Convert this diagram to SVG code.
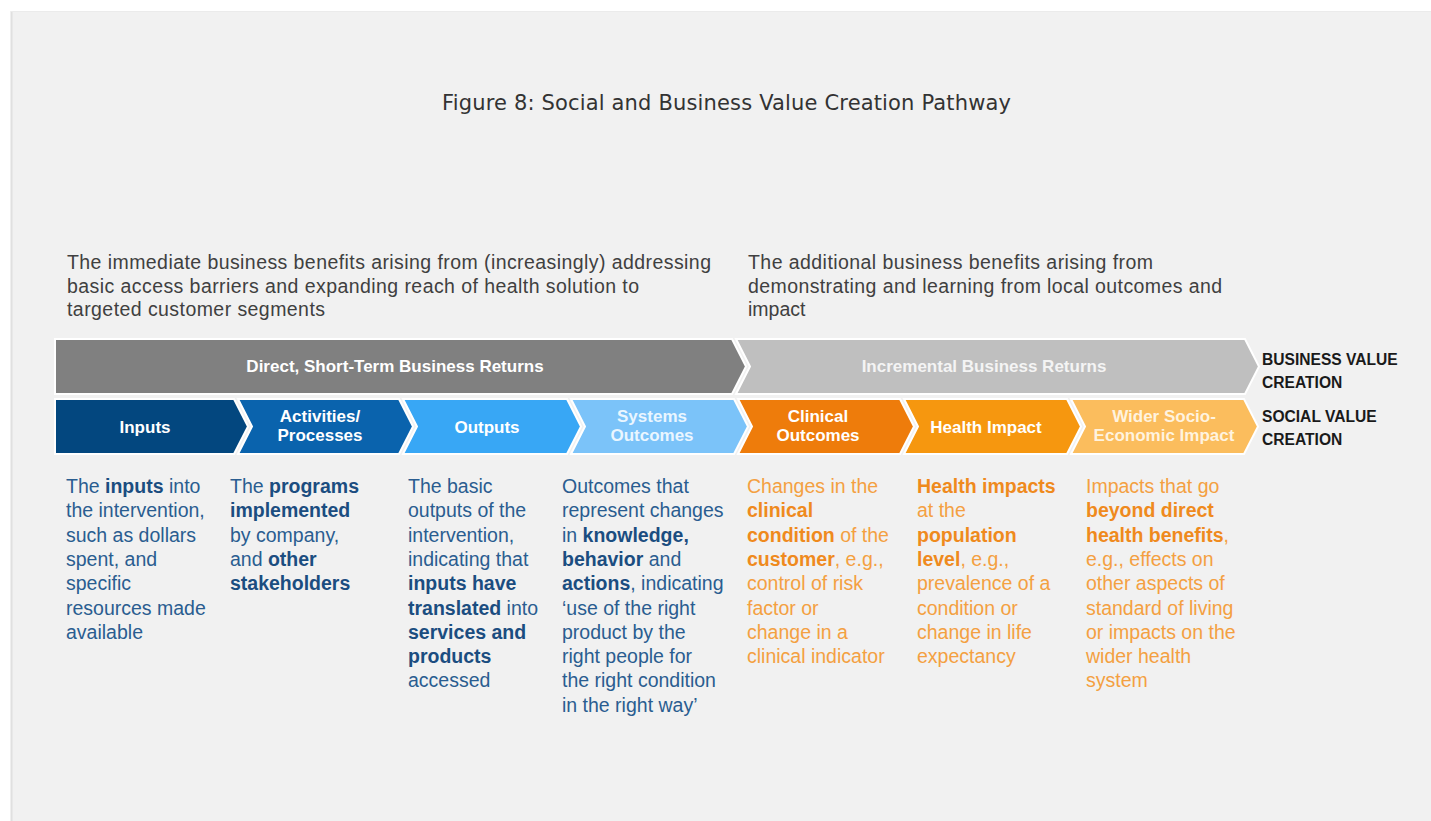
<svg xmlns="http://www.w3.org/2000/svg" width="1431" height="821" viewBox="0 0 1431 821">
<style>
.title{font-family:"DejaVu Sans",sans-serif;font-size:21px;fill:#333333}
.para{font-family:"Liberation Sans",Arial,sans-serif;font-size:19.5px;fill:#404040}
.chev{stroke:#ffffff;stroke-width:2;stroke-linejoin:miter}
.lbl{font-family:"Liberation Sans",Arial,sans-serif;font-size:17px;font-weight:bold;fill:#ffffff;text-anchor:middle}
.side{font-family:"Liberation Sans",Arial,sans-serif;font-size:15.6px;font-weight:bold;fill:#1a1a1a}
.blue{font-family:"Liberation Sans",Arial,sans-serif;font-size:19.5px;fill:#2a5d90}
.orng{font-family:"Liberation Sans",Arial,sans-serif;font-size:19.5px;fill:#f4a041}
.bb{font-weight:bold;fill:#1b4d80}
.bo{font-weight:bold;fill:#ef8a1d}
</style>
<rect x="0" y="0" width="1431" height="821" fill="#ffffff"/>
<rect x="11" y="11" width="1420" height="810" fill="#f1f1f1"/>
<line x1="11.5" y1="11" x2="11.5" y2="821" stroke="#e0e0e0" stroke-width="2"/>
<line x1="11" y1="11.5" x2="1431" y2="11.5" stroke="#ebebeb" stroke-width="1"/>

<g id="title">
<text class="title" x="442" y="110" textLength="569">Figure 8: Social and Business Value Creation Pathway</text>
</g>

<g id="para-left">
<text class="para" x="67" y="269" textLength="644">The immediate business benefits arising from (increasingly) addressing</text>
<text class="para" x="67" y="292.5" textLength="572">basic access barriers and expanding reach of health solution to</text>
<text class="para" x="67" y="316" textLength="258">targeted customer segments</text>
</g>
<g id="para-right">
<text class="para" x="748" y="269" textLength="405">The additional business benefits arising from</text>
<text class="para" x="748" y="292.5" textLength="474">demonstrating and learning from local outcomes and</text>
<text class="para" x="748" y="316">impact</text>
</g>

<g id="bar-direct">
<polygon class="chev" fill="#808080" points="55,339 732,339 746,366.5 732,394 55,394"/>
<text class="lbl" x="395" y="372">Direct, Short-Term Business Returns</text>
</g>
<g id="bar-incremental">
<polygon class="chev" fill="#bfbfbf" points="736,339 1245,339 1259,366.5 1245,394 736,394 750,366.5"/>
<text class="lbl" x="984" y="372" style="fill:#f4f4f4">Incremental Business Returns</text>
</g>

<g id="chev-inputs">
<polygon class="chev" fill="#03477f" points="55,399 234,399 248,426.5 234,454 55,454"/>
<text class="lbl" x="145" y="433">Inputs</text>
</g>
<g id="chev-activities">
<polygon class="chev" fill="#0a63ad" points="238,399 399,399 413,426.5 399,454 238,454 252,426.5"/>
<text class="lbl" x="320" y="422">Activities/</text>
<text class="lbl" x="320" y="441">Processes</text>
</g>
<g id="chev-outputs">
<polygon class="chev" fill="#38a7f5" points="403,399 567,399 581,426.5 567,454 403,454 417,426.5"/>
<text class="lbl" x="487" y="433">Outputs</text>
</g>
<g id="chev-systems">
<polygon class="chev" fill="#7bc3f9" points="571,399 734,399 748,426.5 734,454 571,454 585,426.5"/>
<text class="lbl" x="652" y="422" style="fill:#eaf6ff">Systems</text>
<text class="lbl" x="652" y="441" style="fill:#eaf6ff">Outcomes</text>
</g>
<g id="chev-clinical">
<polygon class="chev" fill="#ee7c0b" points="738,399 900,399 914,426.5 900,454 738,454 752,426.5"/>
<text class="lbl" x="818" y="422">Clinical</text>
<text class="lbl" x="818" y="441">Outcomes</text>
</g>
<g id="chev-health">
<polygon class="chev" fill="#f6970f" points="904,399 1067,399 1081,426.5 1067,454 904,454 918,426.5"/>
<text class="lbl" x="986" y="433">Health Impact</text>
</g>
<g id="chev-wider">
<polygon class="chev" fill="#fbbd5d" points="1071,399 1244,399 1258,426.5 1244,454 1071,454 1085,426.5"/>
<text class="lbl" x="1164" y="422" style="fill:#fff3df">Wider Socio-</text>
<text class="lbl" x="1164" y="441" style="fill:#fff3df">Economic Impact</text>
</g>

<g id="side-labels">
<text class="side" x="1262" y="365">BUSINESS VALUE</text>
<text class="side" x="1262" y="388">CREATION</text>
<text class="side" x="1262" y="422">SOCIAL VALUE</text>
<text class="side" x="1262" y="445">CREATION</text>
</g>

<g id="connectors"></g>

<g id="desc-inputs">
<text class="blue">
<tspan x="66" y="493">The <tspan class="bb">inputs</tspan> into</tspan>
<tspan x="66" y="517.3">the intervention,</tspan>
<tspan x="66" y="541.6">such as dollars</tspan>
<tspan x="66" y="565.9">spent, and</tspan>
<tspan x="66" y="590.2">specific</tspan>
<tspan x="66" y="614.5">resources made</tspan>
<tspan x="66" y="638.8">available</tspan>
</text>
</g>
<g id="desc-activities">
<text class="blue">
<tspan x="230" y="493">The <tspan class="bb">programs</tspan></tspan>
<tspan x="230" y="517.3" class="bb">implemented</tspan>
<tspan x="230" y="541.6">by company,</tspan>
<tspan x="230" y="565.9">and <tspan class="bb">other</tspan></tspan>
<tspan x="230" y="590.2" class="bb">stakeholders</tspan>
</text>
</g>
<g id="desc-outputs">
<text class="blue">
<tspan x="408" y="493">The basic</tspan>
<tspan x="408" y="517.3">outputs of the</tspan>
<tspan x="408" y="541.6">intervention,</tspan>
<tspan x="408" y="565.9">indicating that</tspan>
<tspan x="408" y="590.2" class="bb">inputs have</tspan>
<tspan x="408" y="614.5"><tspan class="bb">translated</tspan> into</tspan>
<tspan x="408" y="638.8" class="bb">services and</tspan>
<tspan x="408" y="663.1" class="bb">products</tspan>
<tspan x="408" y="687.4">accessed</tspan>
</text>
</g>
<g id="desc-systems">
<text class="blue">
<tspan x="562" y="493">Outcomes that</tspan>
<tspan x="562" y="517.3">represent changes</tspan>
<tspan x="562" y="541.6">in <tspan class="bb">knowledge,</tspan></tspan>
<tspan x="562" y="565.9"><tspan class="bb">behavior</tspan> and</tspan>
<tspan x="562" y="590.2"><tspan class="bb">actions</tspan>, indicating</tspan>
<tspan x="562" y="614.5">‘use of the right</tspan>
<tspan x="562" y="638.8">product by the</tspan>
<tspan x="562" y="663.1">right people for</tspan>
<tspan x="562" y="687.4">the right condition</tspan>
<tspan x="562" y="711.7">in the right way’</tspan>
</text>
</g>
<g id="desc-clinical">
<text class="orng">
<tspan x="747" y="493">Changes in the</tspan>
<tspan x="747" y="517.3" class="bo">clinical</tspan>
<tspan x="747" y="541.6"><tspan class="bo">condition</tspan> of the</tspan>
<tspan x="747" y="565.9"><tspan class="bo">customer</tspan>, e.g.,</tspan>
<tspan x="747" y="590.2">control of risk</tspan>
<tspan x="747" y="614.5">factor or</tspan>
<tspan x="747" y="638.8">change in a</tspan>
<tspan x="747" y="663.1">clinical indicator</tspan>
</text>
</g>
<g id="desc-health">
<text class="orng">
<tspan x="917" y="493" class="bo">Health impacts</tspan>
<tspan x="917" y="517.3">at the</tspan>
<tspan x="917" y="541.6" class="bo">population</tspan>
<tspan x="917" y="565.9"><tspan class="bo">level</tspan>, e.g.,</tspan>
<tspan x="917" y="590.2">prevalence of a</tspan>
<tspan x="917" y="614.5">condition or</tspan>
<tspan x="917" y="638.8">change in life</tspan>
<tspan x="917" y="663.1">expectancy</tspan>
</text>
</g>
<g id="desc-wider">
<text class="orng">
<tspan x="1086" y="493">Impacts that go</tspan>
<tspan x="1086" y="517.3" class="bo">beyond direct</tspan>
<tspan x="1086" y="541.6"><tspan class="bo">health benefits</tspan>,</tspan>
<tspan x="1086" y="565.9">e.g., effects on</tspan>
<tspan x="1086" y="590.2">other aspects of</tspan>
<tspan x="1086" y="614.5">standard of living</tspan>
<tspan x="1086" y="638.8">or impacts on the</tspan>
<tspan x="1086" y="663.1">wider health</tspan>
<tspan x="1086" y="687.4">system</tspan>
</text>
</g>
</svg>
